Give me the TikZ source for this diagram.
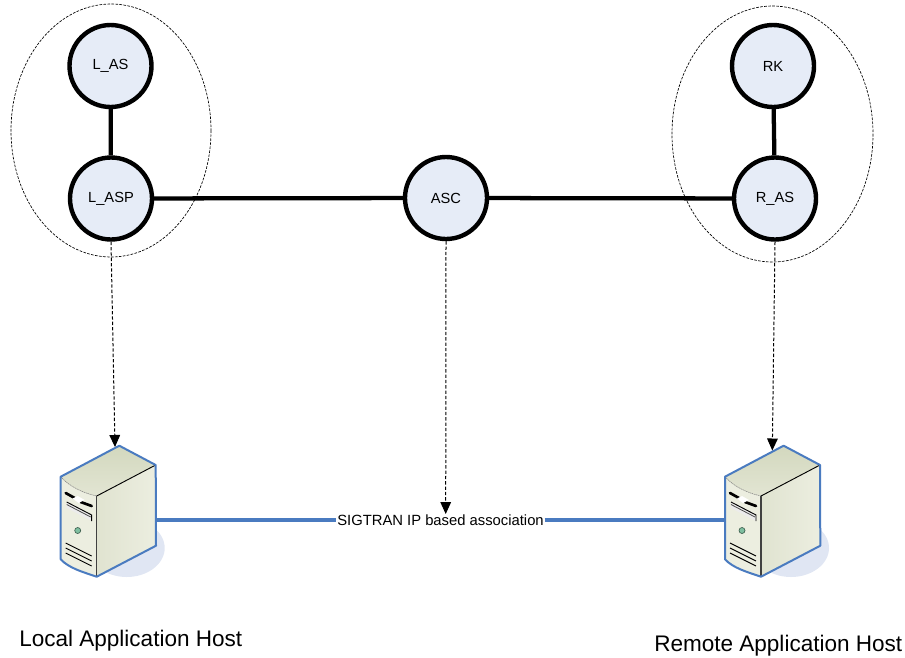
\documentclass[tikz,border=0pt]{standalone}
\usepackage{fontspec}
\setmainfont{Liberation Sans}
\usetikzlibrary{arrows.meta,calc}
\definecolor{nodefill}{HTML}{E6ECF7}
\definecolor{hostblue}{HTML}{4A7BC0}
\definecolor{shadowblue}{HTML}{E0E6F3}
\definecolor{boxfront}{HTML}{ECEEE0}
\definecolor{boxtop}{HTML}{D3D8BE}
\definecolor{boxtoplight}{HTML}{E2E5D3}
\definecolor{boxside}{HTML}{E0E3D0}
\definecolor{ledgreen}{HTML}{7FBFA0}
\tikzset{
  x=0.75pt,y=-0.75pt,
  statenode/.style={circle,draw=black,line width=3.3pt,fill=nodefill,minimum size=61.5pt,inner sep=0pt,font=\fontsize{11}{13}\selectfont},
  group/.style={draw=black,line width=0.5pt,dash pattern=on 2pt off 1pt},
  link/.style={draw=black,line width=3.2pt},
  mapping/.style={draw=black,line width=0.75pt,dash pattern=on 2.5pt off 1.5pt,-{Triangle[length=9pt,width=8pt]}},
  hostlink/.style={draw=hostblue,line width=2.8pt},
  hostbox/.style={inner sep=0pt,minimum width=72pt,minimum height=98pt},
  hostlabel/.style={inner sep=0pt,font=\fontsize{16.9}{20}\selectfont,anchor=base west},
  assoc/.style={fill=white,inner sep=0.5pt,font=\fontsize{11.1}{13}\selectfont},
  pics/server/.style={code={
    % origin: front vertical edge, top
    \fill[shadowblue] (30,52) ellipse[x radius=38,y radius=29];
    \fill[boxfront] (-36,-19.3) -- (0,0) -- (0,80.7) .. controls (-14,76) and (-28,72) .. (-36,63.3) -- cycle;
    \shade[top color=boxtop,bottom color=boxtoplight] (-36,-19.3) -- (22.6,-50.3) -- (59,-31) -- (0,0) .. controls (-14,-3) and (-28,-10) .. (-36,-19.3);
    \shade[left color=boxside,right color=boxfront] (0,0) -- (59,-31) -- (59.3,49.7) -- (0,80.7) -- cycle;
    \draw[gray,line width=0.4pt,dash pattern=on 1pt off 0.5pt] (-36,-19.3) .. controls (-28,-10) and (-14,-3) .. (0,0);
    \draw[black,line width=0.7pt] (0,0) -- (59,-31);
    \draw[gray!50!black,line width=1pt] (0,0) -- (0,80.7);
    % drive bay
    \draw[black,line width=2pt,line cap=round] (-31,-3) -- (-22,2);
    \draw[black,line width=2pt,line cap=round] (-16,6) -- (-5,10);
    \fill[white] (-24,2.5) -- (-19,0) -- (-12,4) -- (-18,7) -- cycle;
    \fill[white!85!gray] (-30,6) -- (-5,19) -- (-5,25) -- (-30,12) -- cycle;
    \draw[black,line width=0.7pt] (-30,6) -- (-5,19) -- (-5,25);
    \draw[black!70,line width=0.6pt] (-30,8.5) -- (-6,21);
    % LED
    \draw[black!50!ledgreen,line width=0.5pt,fill=ledgreen] (-19,34.5) circle[radius=3];
    % vents
    \draw[black,line width=0.7pt] (-31,47) -- (-5,60);
    \draw[black,line width=0.7pt] (-31,52) -- (-5,65);
    \draw[black,line width=0.7pt] (-31,57) -- (-5,70);
    % outline
    \draw[hostblue,line width=1.5pt,line join=round] (-36,-19.3) -- (22.6,-50.3) -- (59,-31) -- (59.3,49.7) -- (0,80.7) .. controls (-14,76) and (-28,72) .. (-36,63.3) -- cycle;
  }}
}
\begin{document}
\begin{tikzpicture}
\useasboundingbox (0,0) rectangle (905,657);
% groups
\draw[group] (111,130.5) ellipse[x radius=100,y radius=126.5];
\draw[group] (772.5,134) ellipse[x radius=100.5,y radius=128];
% servers
\pic at (96.7,496) {server};
\pic at (761,496) {server};
\node[hostbox] (hostL) at (108.5,511) {};
\node[hostbox] (hostR) at (772,511) {};
% state nodes
\node[statenode] (las) at (110.5,66) {L\_AS};
\node[statenode] (lasp) at (111,198.5) {L\_ASP};
\node[statenode] (asc) at (446,198) {ASC};
\node[statenode] (ras) at (775,198.5) {R\_AS};
\node[statenode] (rk) at (773,66) {RK};
% black links
\draw[link] (las) -- (lasp);
\draw[link] (lasp) -- (asc);
\draw[link] (asc) -- (ras);
\draw[link] (rk) -- (ras);
% association
\node[assoc] (sig) at (440.5,520) {SIGTRAN IP based association};
\draw[hostlink] (hostL.east |- sig.west) -- (sig.west);
\draw[hostlink] (sig.east) -- (hostR.west |- sig.east);
% mappings
\coordinate (tipL) at (115,447);
\coordinate (tipR) at (772.3,450.5);
\coordinate (tipC) at (445.7,514);
\draw[mapping] (lasp.south) -- (tipL);
\draw[mapping] (ras.south) -- (tipR);
\draw[mapping] (asc.south) -- (tipC);
% host labels
\node[hostlabel] (llabel) at (19,646) {Local Application Host};
\node[hostlabel] (rlabel) at (654,651) {Remote Application Host};
\end{tikzpicture}
\end{document}
